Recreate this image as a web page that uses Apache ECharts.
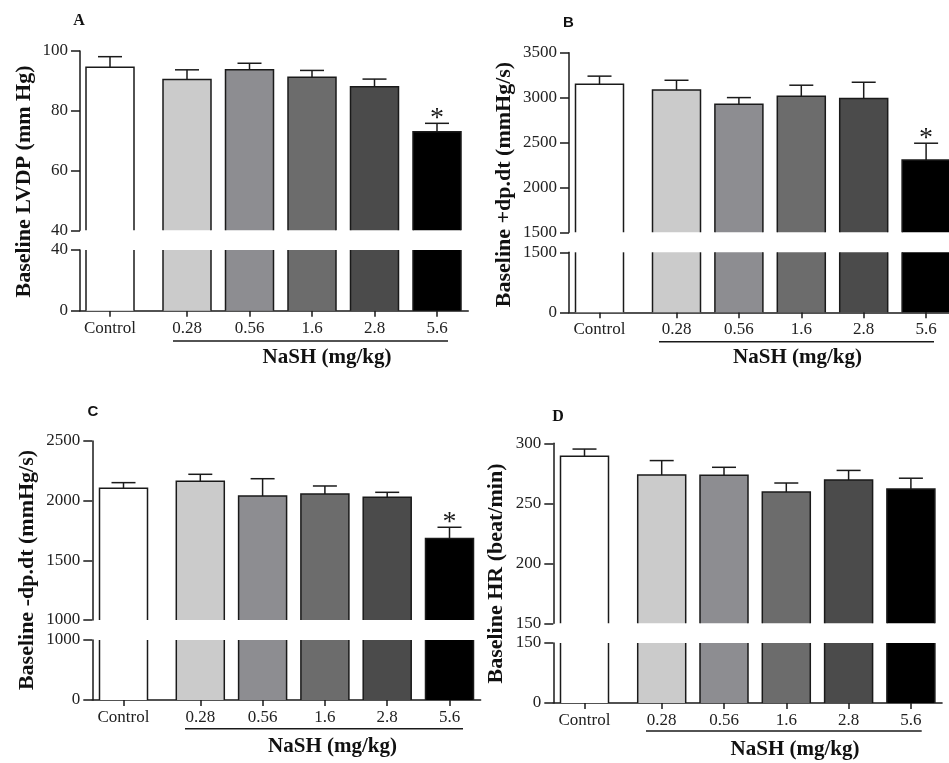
<!DOCTYPE html>
<html>
<head>
<meta charset="utf-8">
<script src="https://cdn.jsdelivr.net/npm/echarts@6/dist/echarts.min.js"></script>
<style>
html,body{margin:0;padding:0;background:#ffffff;}
#chart{width:949px;height:763px;}
</style>
</head>
<body>
<div id="chart"></div>
<script>
// ---------------- data ----------------
const controlCategory = ['Control'];
const doseCategories = ['0.28', '0.56', '1.6', '2.8', '5.6'];
const groupLabel = 'NaSH (mg/kg)';

const lvdpMean = [94.6, 90.5, 93.7, 91.2, 88.0, 73.0];
const lvdpErr = [3.5, 3.2, 2.2, 2.3, 2.6, 2.8];
const lvdpSig = [0, 0, 0, 0, 0, 1];
const lvdpUpperTicks = [40, 60, 80, 100];
const lvdpLowerTicks = [0, 40];

const dpdtPosMean = [3149, 3086, 2927, 3016, 2989, 2304];
const dpdtPosErr = [90, 107, 73, 122, 182, 188];
const dpdtPosSig = [0, 0, 0, 0, 0, 1];
const dpdtPosUpperTicks = [1500, 2000, 2500, 3000, 3500];
const dpdtPosLowerTicks = [0, 1500];

const dpdtNegMean = [2104, 2162, 2039, 2056, 2028, 1682];
const dpdtNegErr = [47, 59, 145, 67, 42, 95];
const dpdtNegSig = [0, 0, 0, 0, 0, 1];
const dpdtNegUpperTicks = [1000, 1500, 2000, 2500];
const dpdtNegLowerTicks = [0, 1000];

const hrMean = [289.2, 273.6, 273.3, 259.4, 269.4, 261.9];
const hrErr = [6, 12, 6.7, 7.5, 8, 9];
const hrSig = [0, 0, 0, 0, 0, 0];
const hrUpperTicks = [150, 200, 250, 300];
const hrLowerTicks = [0, 150];

// ---------------- styles ----------------
const barColors = ['#ffffff', '#cbcbcb', '#8d8d91', '#6c6c6c', '#4b4b4b', '#000000'];
const SERIF = '"Liberation Serif", "Times New Roman", serif';
const SANS = '"Liberation Sans", Arial, sans-serif';
const INK = '#1a1a1a';
const BAR_W = 48;
const CAP_W = 24;

const panels = [
  { letter: 'A', letterFont: SERIF, yName: 'Baseline LVDP (mm Hg)',
    mean: lvdpMean, err: lvdpErr, sig: lvdpSig, up: lvdpUpperTicks, low: lvdpLowerTicks,
    L: { axisX: 80, ctrl: 110, first: 187, step: 62.5, uTop: 51, uBot: 230.3, lTop: 250, lBot: 310.7,
         lx: 79, ly: 20.5, nx: 24, ny: 181.5, gx: 327, gy: 358, ux0: 173, ux1: 448, uy: 341 } },
  { letter: 'B', letterFont: SANS, yName: 'Baseline +dp.dt (mmHg/s)',
    mean: dpdtPosMean, err: dpdtPosErr, sig: dpdtPosSig, up: dpdtPosUpperTicks, low: dpdtPosLowerTicks,
    L: { axisX: 569, ctrl: 599.5, first: 676.5, step: 62.4, uTop: 52.7, uBot: 232.3, lTop: 252.3, lBot: 312.3,
         lx: 568.3, ly: 23.3, nx: 504, ny: 184.5, gx: 797.5, gy: 358, ux0: 659, ux1: 934, uy: 341.7 } },
  { letter: 'C', letterFont: SANS, yName: 'Baseline -dp.dt (mmHg/s)',
    mean: dpdtNegMean, err: dpdtNegErr, sig: dpdtNegSig, up: dpdtNegUpperTicks, low: dpdtNegLowerTicks,
    L: { axisX: 92.3, ctrl: 123.5, first: 200.3, step: 62.3, uTop: 441, uBot: 620, lTop: 640, lBot: 700,
         lx: 93, ly: 412, nx: 27.5, ny: 570, gx: 332.5, gy: 746.7, ux0: 185, ux1: 463, uy: 728.7 } },
  { letter: 'D', letterFont: SERIF, yName: 'Baseline HR (beat/min)',
    mean: hrMean, err: hrErr, sig: hrSig, up: hrUpperTicks, low: hrLowerTicks,
    L: { axisX: 553.3, ctrl: 584.5, first: 661.7, step: 62.3, uTop: 443.3, uBot: 623.3, lTop: 643, lBot: 703,
         lx: 558, ly: 417, nx: 496.5, ny: 573.5, gx: 795, gy: 749.3, ux0: 646, ux1: 921.7, uy: 731 } }
];

// ---------------- builder ----------------
const option = { animation: false, backgroundColor: '#ffffff', grid: [], xAxis: [], yAxis: [], series: [], graphic: [] };

function addGrid(left, top, width, height) {
  option.grid.push({ left: left, top: top, width: width, height: height, containLabel: false, outerBoundsMode: 'none' });
  return option.grid.length - 1;
}

function yAxisDef(gi, ticks, show) {
  return {
    type: 'value', gridIndex: gi, show: show,
    min: ticks[0], max: ticks[ticks.length - 1], interval: ticks[1] - ticks[0],
    axisLine: { show: true, onZero: false, lineStyle: { color: INK, width: 1.5 } },
    axisTick: { show: true, inside: false, length: 9, lineStyle: { color: INK, width: 1.5 } },
    axisLabel: { show: true, margin: 12, fontFamily: SERIF, fontSize: 17, color: '#222',
                 formatter: function (v) { return String(v); } },
    splitLine: { show: false }
  };
}

function xAxisDef(gi, cats, showLabels) {
  return {
    type: 'category', gridIndex: gi, data: cats, boundaryGap: true,
    axisLine: { show: false, onZero: false },
    axisTick: { show: showLabels, alignWithLabel: true, interval: 0, inside: false, length: 6, lineStyle: { color: INK, width: 1.5 } },
    axisLabel: { show: showLabels, interval: 0, margin: 9, fontFamily: SERIF, fontSize: 17, color: '#222' },
    splitLine: { show: false }
  };
}

function makeRender(part, colors, yMin, yMax) {
  return function (params, api) {
    const i = api.value(0), m = api.value(1), e = api.value(2), s = api.value(3);
    const ch = [];
    if (part === 'upper') {
      const p = api.coord([i, m]);
      const b = api.coord([i, yMin]);
      const x0 = p[0] - BAR_W / 2, x1 = p[0] + BAR_W / 2;
      ch.push({ type: 'rect', shape: { x: x0, y: p[1], width: BAR_W, height: b[1] - p[1] }, style: { fill: colors[i] } });
      ch.push({ type: 'polyline', shape: { points: [[x0, b[1]], [x0, p[1]], [x1, p[1]], [x1, b[1]]] },
                style: { stroke: INK, lineWidth: 1.5, fill: null } });
      const et = api.coord([i, m + e]);
      ch.push({ type: 'line', shape: { x1: p[0], y1: p[1], x2: p[0], y2: et[1] }, style: { stroke: INK, lineWidth: 1.5 } });
      ch.push({ type: 'line', shape: { x1: p[0] - CAP_W / 2, y1: et[1], x2: p[0] + CAP_W / 2, y2: et[1] }, style: { stroke: INK, lineWidth: 1.5 } });
      if (s) {
        ch.push({ type: 'text', x: p[0], y: et[1] - 5,
                  style: { text: '*', font: '28px ' + SERIF, fill: INK, align: 'center', verticalAlign: 'middle',
                           textAlign: 'center', textVerticalAlign: 'middle' } });
      }
    } else {
      const t = api.coord([i, Math.min(m, yMax)]);
      const b = api.coord([i, 0]);
      const x0 = t[0] - BAR_W / 2, x1 = t[0] + BAR_W / 2;
      ch.push({ type: 'rect', shape: { x: x0, y: t[1], width: BAR_W, height: b[1] - t[1] }, style: { fill: colors[i] } });
      ch.push({ type: 'line', shape: { x1: x0, y1: t[1], x2: x0, y2: b[1] }, style: { stroke: INK, lineWidth: 1.5 } });
      ch.push({ type: 'line', shape: { x1: x1, y1: t[1], x2: x1, y2: b[1] }, style: { stroke: INK, lineWidth: 1.5 } });
    }
    return { type: 'group', children: ch };
  };
}

panels.forEach(function (P) {
  const L = P.L;
  const ctrlW = 2 * (L.ctrl - L.axisX);
  const nashLeft = L.first - L.step / 2;
  const nashW = L.step * doseCategories.length;
  const uH = L.uBot - L.uTop, lH = L.lBot - L.lTop;
  const upMin = P.up[0], upMax = P.up[P.up.length - 1];
  const lowMin = P.low[0], lowMax = P.low[P.low.length - 1];

  const ctrlData = [[0, P.mean[0], P.err[0], P.sig[0]]];
  const doseData = doseCategories.map(function (c, k) { return [k, P.mean[k + 1], P.err[k + 1], P.sig[k + 1]]; });
  const ctrlColors = barColors.slice(0, 1);
  const doseColors = barColors.slice(1);

  // upper control
  let g = addGrid(L.axisX, L.uTop, ctrlW, uH);
  option.xAxis.push(xAxisDef(g, controlCategory, false));
  option.yAxis.push(yAxisDef(g, P.up, true));
  option.series.push({ type: 'custom', xAxisIndex: g, yAxisIndex: g, clip: false, data: ctrlData,
                       renderItem: makeRender('upper', ctrlColors, upMin, upMax) });
  // upper doses
  g = addGrid(nashLeft, L.uTop, nashW, uH);
  option.xAxis.push(xAxisDef(g, doseCategories, false));
  option.yAxis.push(yAxisDef(g, P.up, false));
  option.series.push({ type: 'custom', xAxisIndex: g, yAxisIndex: g, clip: false, data: doseData,
                       renderItem: makeRender('upper', doseColors, upMin, upMax) });
  // lower control
  g = addGrid(L.axisX, L.lTop, ctrlW, lH);
  option.xAxis.push(xAxisDef(g, controlCategory, true));
  option.yAxis.push(yAxisDef(g, P.low, true));
  option.series.push({ type: 'custom', xAxisIndex: g, yAxisIndex: g, clip: false, data: ctrlData,
                       renderItem: makeRender('lower', ctrlColors, lowMin, lowMax) });
  // lower doses
  g = addGrid(nashLeft, L.lTop, nashW, lH);
  option.xAxis.push(xAxisDef(g, doseCategories, true));
  option.yAxis.push(yAxisDef(g, P.low, false));
  option.series.push({ type: 'custom', xAxisIndex: g, yAxisIndex: g, clip: false, data: doseData,
                       renderItem: makeRender('lower', doseColors, lowMin, lowMax) });
  // continuous baseline
  g = addGrid(L.axisX, L.lTop, nashLeft + nashW - L.axisX, lH);
  option.xAxis.push({ type: 'value', gridIndex: g, min: 0, max: 1,
                      axisLine: { show: true, onZero: false, lineStyle: { color: INK, width: 1.5 } },
                      axisTick: { show: false }, axisLabel: { show: false }, splitLine: { show: false } });
  option.yAxis.push({ type: 'value', gridIndex: g, show: false, min: 0, max: 1, splitLine: { show: false } });

  // decorations
  option.graphic.push({ type: 'text', x: L.lx, y: L.ly, silent: true,
    style: { text: P.letter, font: 'bold ' + (P.letterFont === SERIF ? '16px ' : '15px ') + P.letterFont, fill: '#111',
             align: 'center', verticalAlign: 'middle', textAlign: 'center', textVerticalAlign: 'middle' } });
  option.graphic.push({ type: 'text', x: L.nx, y: L.ny, rotation: Math.PI / 2, silent: true,
    style: { text: P.yName, font: 'bold 22px ' + SERIF, fill: '#111',
             align: 'center', verticalAlign: 'middle', textAlign: 'center', textVerticalAlign: 'middle' } });
  option.graphic.push({ type: 'line', silent: true, shape: { x1: L.ux0, y1: L.uy, x2: L.ux1, y2: L.uy },
    style: { stroke: INK, lineWidth: 1.5 } });
  option.graphic.push({ type: 'text', x: L.gx, y: L.gy, silent: true,
    style: { text: groupLabel, font: 'bold 21px ' + SERIF, fill: '#111',
             align: 'center', verticalAlign: 'middle', textAlign: 'center', textVerticalAlign: 'middle' } });
});

const chart = echarts.init(document.getElementById('chart'), null, { renderer: 'canvas' });
chart.setOption(option);
</script>
</body>
</html>
